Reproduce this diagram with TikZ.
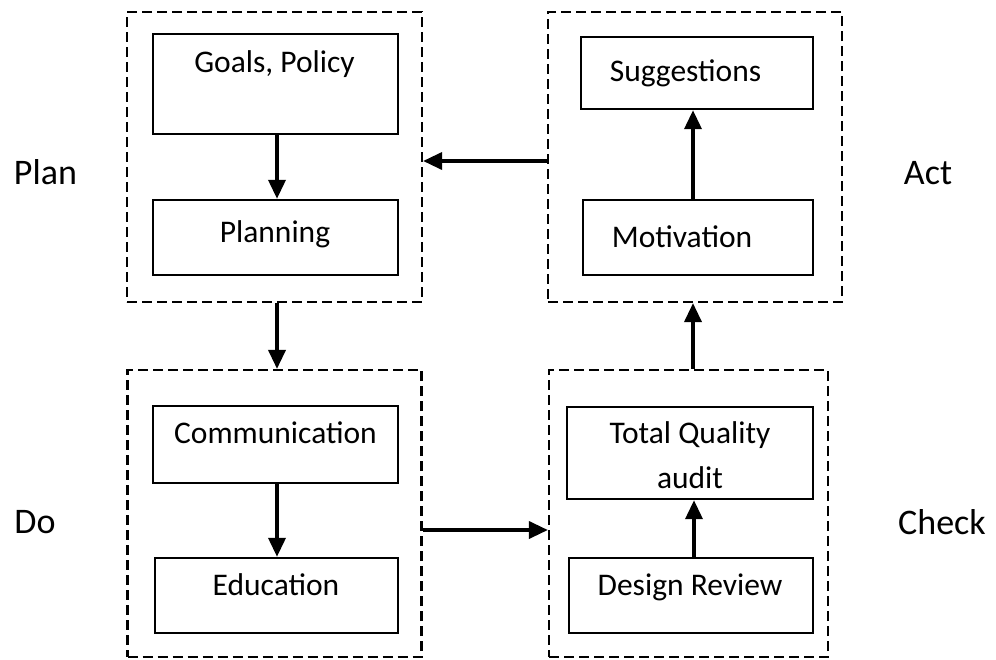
\documentclass[tikz,border=0pt]{standalone}
\usepackage{fontspec}
\setmainfont{Carlito}
\usetikzlibrary{arrows.meta}
\begin{document}
\begin{tikzpicture}[x=1pt,y=-1pt,
  dbox/.style={draw, line width=2.2pt, dash pattern=on 10pt off 5pt, inner sep=0pt},
  sbox/.style={draw, line width=2.4pt, inner sep=0pt},
  txt/.style={anchor=base, inner sep=0pt, font=\fontsize{31.5pt}{36pt}\selectfont},
  lbl/.style={anchor=base, inner sep=0pt, font=\fontsize{36pt}{42pt}\selectfont},
  arr/.style={line width=3.6pt, -{Triangle[length=19pt,width=17pt]}}]
\useasboundingbox (0,0) rectangle (996,659);
% dashed group boxes
\node[dbox, minimum width=295pt, minimum height=290pt] (plan) at (274.5,157) {};
\node[dbox, minimum width=294pt, minimum height=290pt] (act) at (695,157) {};
\node[dbox, minimum width=294pt, minimum height=287pt] (do) at (274.5,513.5) {};
\node[dbox, minimum width=279pt, minimum height=287pt] (check) at (688.5,513.5) {};
% inner boxes
\node[sbox, minimum width=245pt, minimum height=100pt] (goals) at (275.5,84) {};
\node[sbox, minimum width=245pt, minimum height=75pt] (planning) at (275.5,237.5) {};
\node[sbox, minimum width=232pt, minimum height=72pt] (sugg) at (697,73) {};
\node[sbox, minimum width=230pt, minimum height=75pt] (motiv) at (698,237.5) {};
\node[sbox, minimum width=245pt, minimum height=77pt] (comm) at (275.5,444.5) {};
\node[sbox, minimum width=243pt, minimum height=75pt] (edu) at (276.5,595.5) {};
\node[sbox, minimum width=246pt, minimum height=92pt] (tqa) at (690,453) {};
\node[sbox, minimum width=244pt, minimum height=75pt] (dr) at (691,595.5) {};
% texts
\node[txt] (tgoals) at (274.5,72) {Goals, Policy};
\node[txt] (tplanning) at (275,242) {Planning};
\node[txt] (tsugg) at (685.5,81) {Suggestions};
\node[txt] (tmotiv) at (682,247) {Motivation};
\node[txt] (tcomm) at (275.5,443) {Communication};
\node[txt] (tedu) at (276,595) {Education};
\node[txt] (ttq) at (690,443) {Total Quality};
\node[txt] (taudit) at (690,488) {audit};
\node[txt] (tdr) at (690,595) {Design Review};
% side labels
\node[lbl] (lplan) at (45.5,184) {Plan};
\node[lbl] (lact) at (928,184) {Act};
\node[lbl] (ldo) at (35,533) {Do};
\node[lbl] (lcheck) at (942,534) {Check};
% connector guides
\coordinate (xl) at (277,0);
\coordinate (xr) at (693,0);
\coordinate (xr2) at (694,0);
\coordinate (yt) at (0,161);
\coordinate (yb) at (0,530);
% connectors
\draw[arr] (goals.south -| xl) -- (planning.north -| xl);
\draw[arr] (plan.south -| xl) -- (do.north -| xl);
\draw[arr] (comm.south -| xl) -- (edu.north -| xl);
\draw[arr] (do.east |- yb) -- (check.west |- yb);
\draw[arr] (dr.north -| xr2) -- (tqa.south -| xr2);
\draw[arr] (check.north -| xr) -- (act.south -| xr);
\draw[arr] (motiv.north -| xr) -- (sugg.south -| xr);
\draw[arr] (act.west |- yt) -- (plan.east |- yt);
\end{tikzpicture}
\end{document}
